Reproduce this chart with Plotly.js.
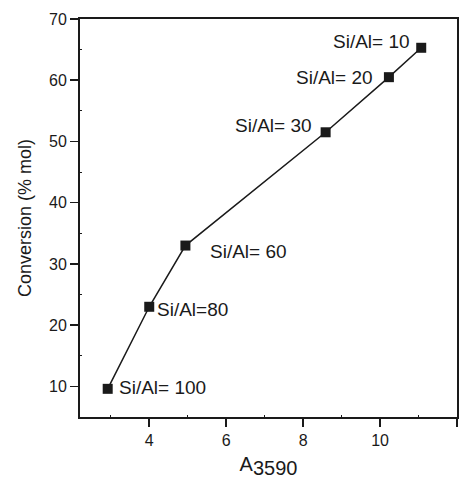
<!DOCTYPE html>
<html>
<head>
<meta charset="utf-8">
<script src="https://cdn.plot.ly/plotly-3.0.1.min.js"></script>
<style>html,body{margin:0;padding:0;background:#fff;}#chart{width:463px;height:483px;}</style>
</head>
<body>
<div id="chart"></div>
<script>
const absorbance = [2.92, 4.0, 4.94, 8.585, 10.23, 11.07];
const conversion = [9.6, 23.0, 33.0, 51.5, 60.5, 65.3];
const ratioLabels = ['Si/Al= 100', 'Si/Al=80', 'Si/Al= 60', 'Si/Al= 30', 'Si/Al= 20', 'Si/Al= 10'];
const xTickVals = [4, 6, 8, 10, 12];
const yTickVals = [10, 20, 30, 40, 50, 60, 70];

const labelStyle = [
  {xanchor: 'left', xshift: 9, yshift: 1},
  {xanchor: 'left', xshift: 6, yshift: -3},
  {xanchor: 'left', xshift: 23, yshift: -6},
  {xanchor: 'right', xshift: -12, yshift: 7},
  {xanchor: 'right', xshift: -14, yshift: 0},
  {xanchor: 'right', xshift: -9, yshift: 6}
];

const font = 'Liberation Sans, Arial, sans-serif';
const ink = '#1a1a1a';

const trace = {
  x: absorbance, y: conversion, type: 'scatter', mode: 'lines+markers',
  line: {color: ink, width: 1.5},
  marker: {symbol: 'square', size: 10, color: ink},
  hoverinfo: 'skip', showlegend: false
};

const annotations = ratioLabels.map((t, i) => Object.assign({
  x: absorbance[i], y: conversion[i], xref: 'x', yref: 'y', text: t,
  showarrow: false, yanchor: 'middle',
  font: {family: font, size: 19, color: ink}
}, labelStyle[i]));

const layout = {
  width: 463, height: 483,
  margin: {l: 80, r: 6, t: 19, b: 66},
  paper_bgcolor: '#fff', plot_bgcolor: '#fff',
  font: {family: font, color: ink},
  xaxis: {
    range: [2.2, 12], tickvals: xTickVals, ticktext: xTickVals.map(String),
    ticks: 'outside', ticklen: 8, tickwidth: 1.5, tickcolor: ink,
    showline: true, linecolor: ink, linewidth: 2, mirror: true,
    showgrid: false, zeroline: false,
    tickfont: {size: 16, color: ink},
    minor: {tickvals: [3, 5, 7, 9, 11], ticks: 'inside', ticklen: 2, tickcolor: ink, tickwidth: 1, showgrid: false},
    title: {text: 'A<sub><span style="font-size:20px">3590</span></sub>', font: {size: 20, color: ink}, standoff: 9}
  },
  yaxis: {
    range: [5, 70], tickvals: yTickVals, ticktext: yTickVals.map(String),
    ticks: 'outside', ticklen: 8, tickwidth: 1.5, tickcolor: ink,
    showline: true, linecolor: ink, linewidth: 2, mirror: true,
    showgrid: false, zeroline: false,
    tickfont: {size: 16, color: ink},
    minor: {tickvals: [15, 25, 35, 45, 55, 65], ticks: 'inside', ticklen: 2, tickcolor: ink, tickwidth: 1, showgrid: false},
    title: {text: 'Conversion (% mol)', font: {size: 18, color: ink}, standoff: 13}
  },
  annotations: annotations
};

Plotly.newPlot('chart', [trace], layout, {staticPlot: true, displayModeBar: false});
</script>
</body>
</html>
